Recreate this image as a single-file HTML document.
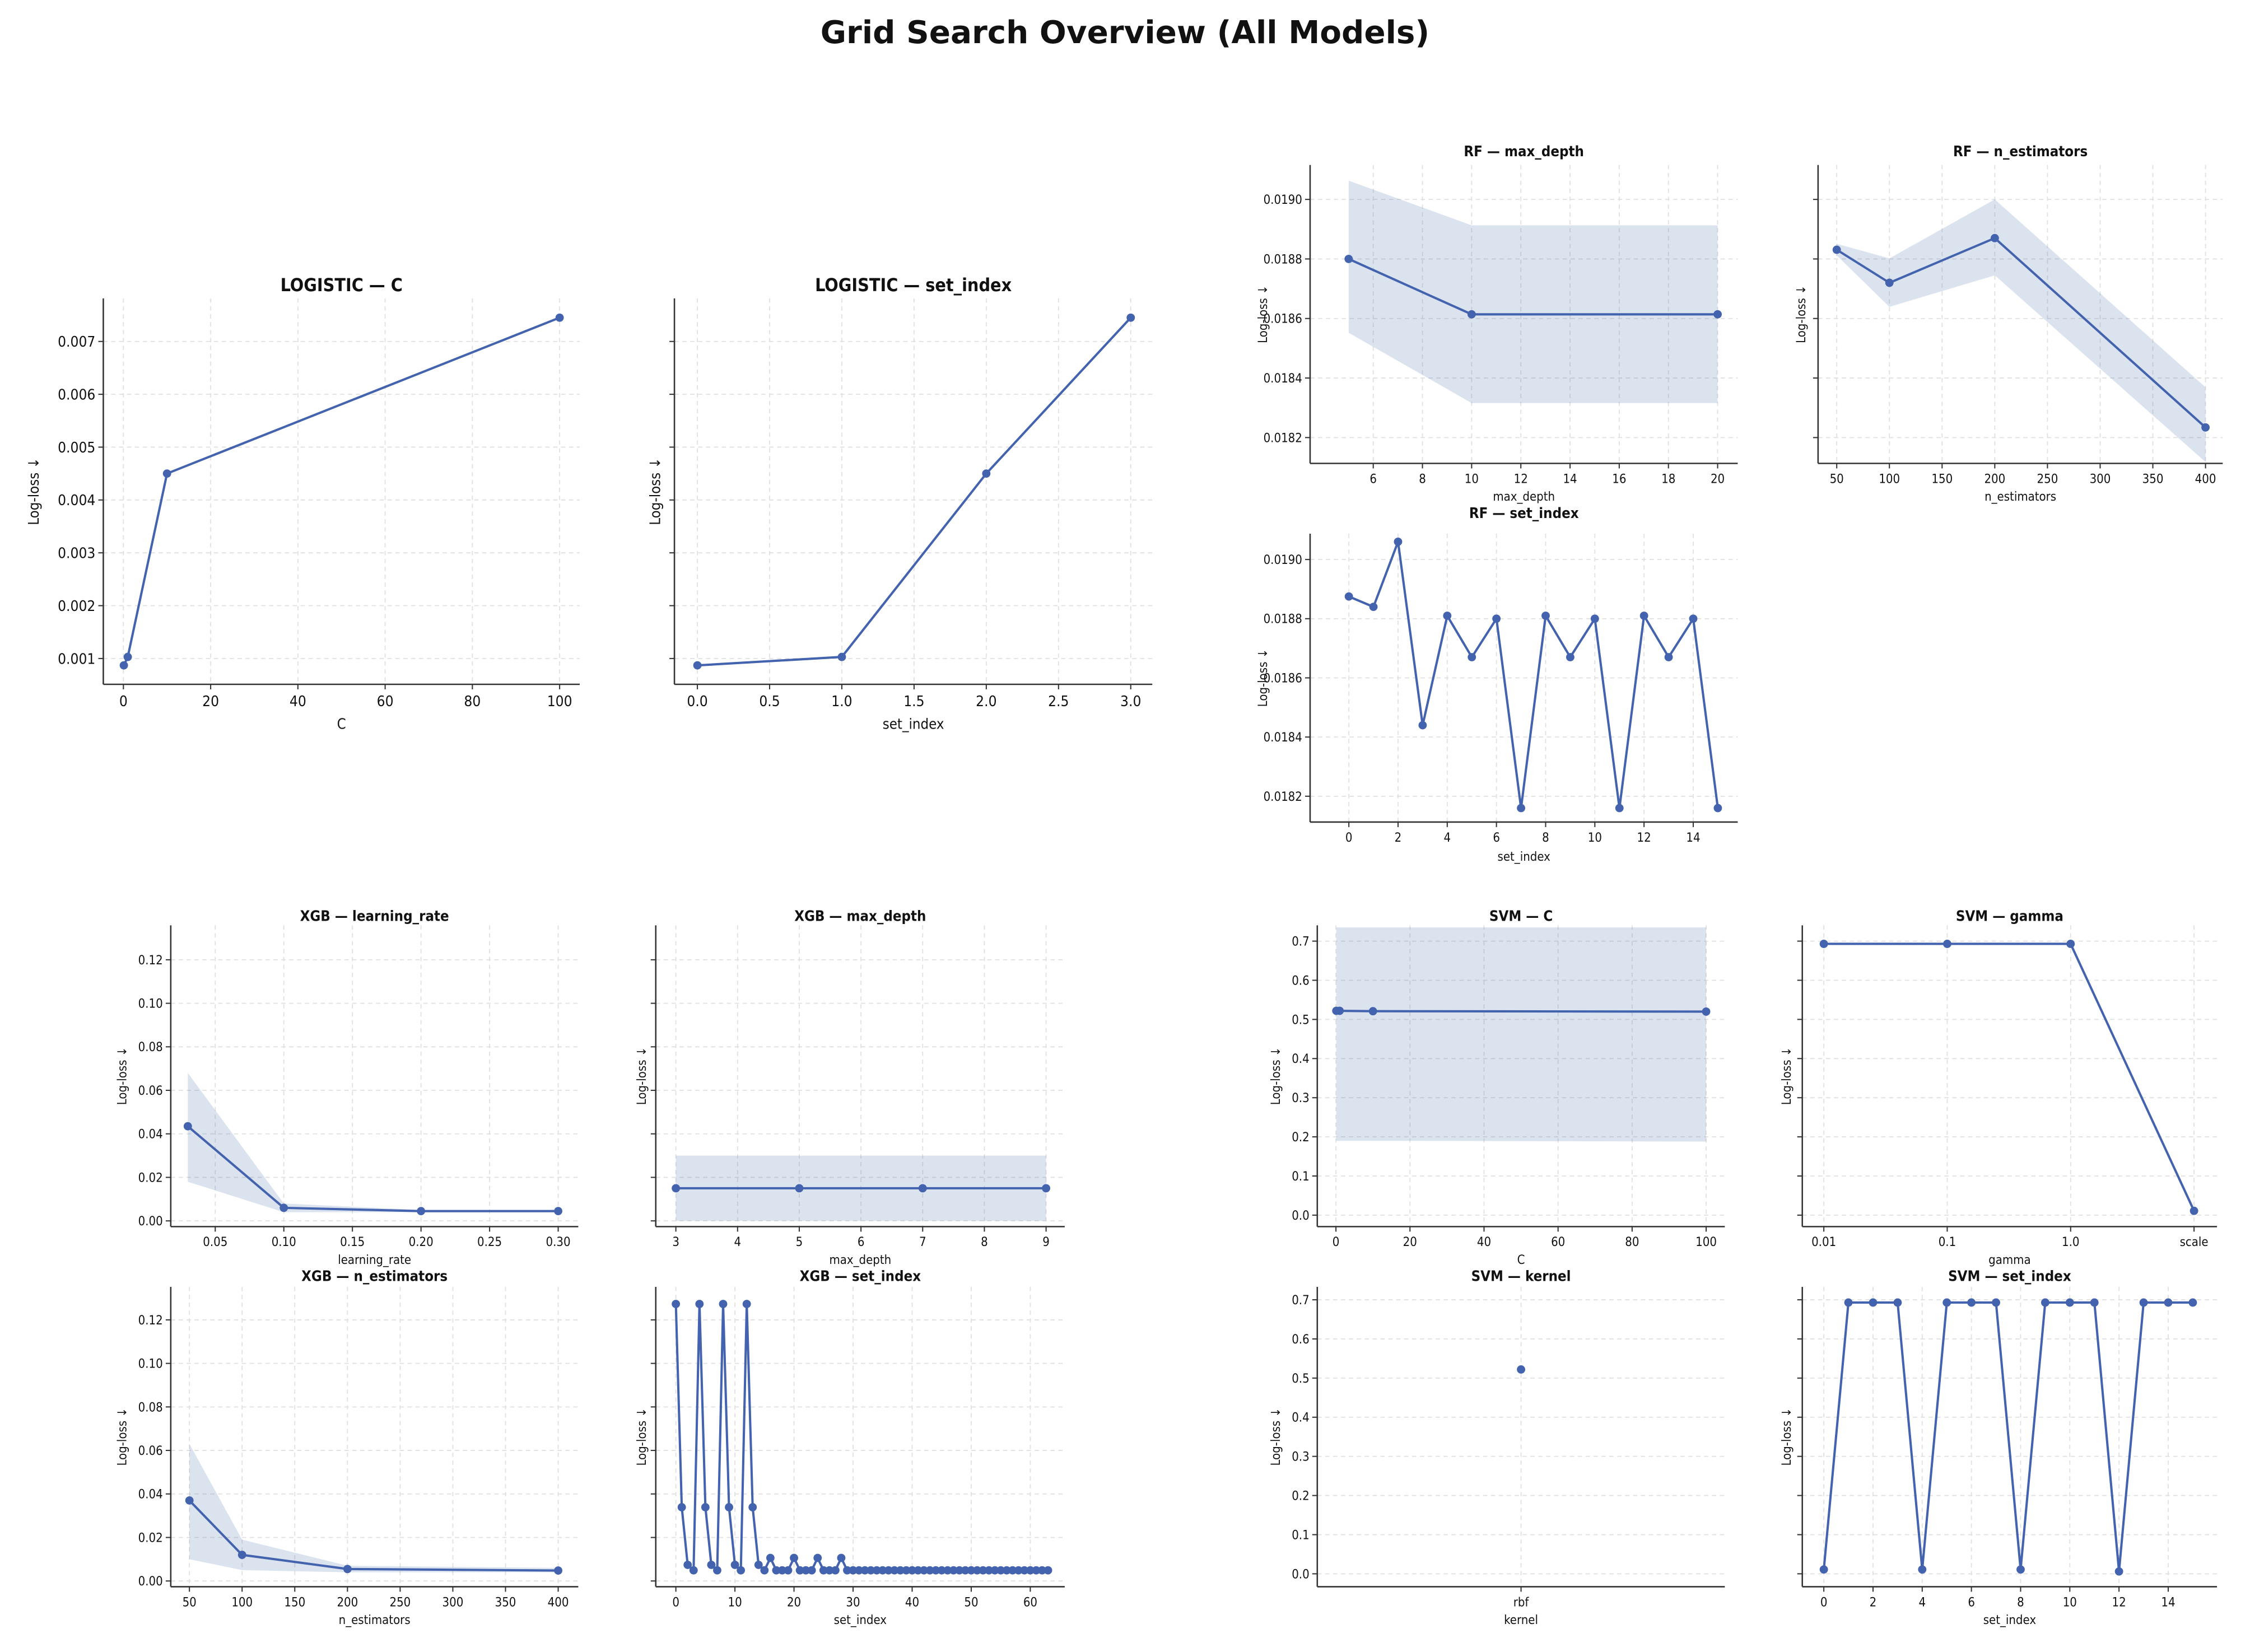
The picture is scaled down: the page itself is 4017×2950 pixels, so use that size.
<!DOCTYPE html>
<html><head><meta charset="utf-8">
<style>
html,body{margin:0;padding:0;background:#fff;}
svg{display:block;}
text{font-family:"DejaVu Sans Condensed","DejaVu Sans","Liberation Sans",sans-serif;fill:#111;}
</style></head>
<body>
<svg id="fig" width="4017" height="2950" viewBox="0 0 1568 1151.5" xmlns="http://www.w3.org/2000/svg">
<rect x="0" y="0" width="1568" height="1151.5" fill="#fff"/>
<text x="784" y="30" text-anchor="middle" font-size="22" font-weight="bold" style="font-family:'DejaVu Sans','Liberation Sans',sans-serif">Grid Search Overview (All Models)</text>
</svg>
<script>
// ---- data ----
const logCX = [0.1, 1, 10, 100];
const logVals = [0.00087, 0.00103, 0.0045, 0.00745];
const logSetX = [0, 1, 2, 3];

const rfDepthX = [5, 10, 20];
const rfDepthVals = [0.01880, 0.018614, 0.018614];
const rfDepthLo = [0.018552, 0.018316, 0.018316];
const rfDepthHi = [0.019063, 0.018913, 0.018913];

const rfEstX = [50, 100, 200, 400];
const rfEstVals = [0.018831, 0.01872, 0.01887, 0.018234];
const rfEstLo = [0.018812, 0.018639, 0.018745, 0.018118];
const rfEstHi = [0.018851, 0.018802, 0.0190, 0.018369];

const rfSetX = [0,1,2,3,4,5,6,7,8,9,10,11,12,13,14,15];
const rfSetVals = [0.018875,0.01884,0.01906,0.01844,0.01881,0.01867,0.0188,0.01816,0.01881,0.01867,0.0188,0.01816,0.01881,0.01867,0.0188,0.01816];

const xgbLrX = [0.03, 0.1, 0.2, 0.3];
const xgbLrVals = [0.0435, 0.006, 0.0045, 0.0045];
const xgbLrLo = [0.018, 0.004, 0.004, 0.004];
const xgbLrHi = [0.068, 0.008, 0.005, 0.005];

const xgbDepthX = [3, 5, 7, 9];
const xgbDepthVals = [0.015, 0.015, 0.015, 0.015];
const xgbDepthLo = [0.0, 0.0, 0.0, 0.0];
const xgbDepthHi = [0.030, 0.030, 0.030, 0.030];

const xgbEstX = [50, 100, 200, 400];
const xgbEstVals = [0.037, 0.012, 0.0055, 0.0048];
const xgbEstLo = [0.010, 0.005, 0.004, 0.004];
const xgbEstHi = [0.063, 0.019, 0.007, 0.006];

const xgbSetX = Array.from({length: 64}, (_, i) => i);
const xgbSetVals = [
 0.1273,0.0339,0.0074,0.0049, 0.1273,0.0339,0.0074,0.0049, 0.1273,0.0339,0.0074,0.0049, 0.1273,0.0339,0.0074,0.0049,
 0.0106,0.0049,0.0049,0.0049, 0.0106,0.0049,0.0049,0.0049, 0.0106,0.0049,0.0049,0.0049, 0.0106,0.0049,0.0049,0.0049,
 0.0049,0.0049,0.0049,0.0049,0.0049,0.0049,0.0049,0.0049,0.0049,0.0049,0.0049,0.0049,0.0049,0.0049,0.0049,0.0049,
 0.0049,0.0049,0.0049,0.0049,0.0049,0.0049,0.0049,0.0049,0.0049,0.0049,0.0049,0.0049,0.0049,0.0049,0.0049,0.0049];

const svmCX = [0.1, 1, 10, 100];
const svmCVals = [0.522, 0.522, 0.521, 0.520];
const svmCLo = [0.19, 0.19, 0.19, 0.188];
const svmCHi = [0.735, 0.735, 0.735, 0.735];

const svmGammaCats = ['0.01', '0.1', '1.0', 'scale'];
const svmGammaVals = [0.693, 0.693, 0.693, 0.011];

const svmKernelCats = ['rbf'];
const svmKernelVals = [0.522];

const svmSetX = [0,1,2,3,4,5,6,7,8,9,10,11,12,13,14,15];
const svmSetVals = [0.011,0.693,0.693,0.693,0.011,0.693,0.693,0.693,0.011,0.693,0.693,0.693,0.006,0.693,0.693,0.693];

const logYTicks = [0.001,0.002,0.003,0.004,0.005,0.006,0.007];
const logYLabels = ['0.001','0.002','0.003','0.004','0.005','0.006','0.007'];
const rfYTicks = [0.0182,0.0184,0.0186,0.0188,0.0190];
const rfYLabels = ['0.0182','0.0184','0.0186','0.0188','0.0190'];
const xgbYTicks = [0,0.02,0.04,0.06,0.08,0.10,0.12];
const xgbYLabels = ['0.00','0.02','0.04','0.06','0.08','0.10','0.12'];
const svmYTicks = [0,0.1,0.2,0.3,0.4,0.5,0.6,0.7];
const svmYLabels = ['0.0','0.1','0.2','0.3','0.4','0.5','0.6','0.7'];

// ---- drawing ----
const NS = 'http://www.w3.org/2000/svg';
const fig = document.getElementById('fig');
const COLOR = '#4463ae';
function mk(tag, attrs, parent) {
  const e = document.createElementNS(NS, tag);
  for (const k in attrs) e.setAttribute(k, attrs[k]);
  (parent || fig).appendChild(e);
  return e;
}
function lin(d0, p0, d1, p1) { return v => p0 + (v - d0) * (p1 - p0) / (d1 - d0); }

function panel(p) {
  const g = mk('g', {});
  
  
  const [l, t, r, b] = p.box;
  const X = p.cats ? (i => p.catPos[0] + i * (p.catPos[1] - p.catPos[0]) / Math.max(1, p.cats.length - 1)) : lin(...p.xmap);
  const Y = lin(...p.ymap);
  const fs = p.fs || 8.6;
  // grid
  const xt = p.cats ? p.cats.map((_, i) => i) : p.xticks;
  const xl = p.cats ? p.cats : p.xlabels;
  xt.forEach(v => {
    const gl = mk('line', {x1: X(v), x2: X(v), y1: t, y2: b, stroke: '#e0e0e0', 'stroke-width': 0.7, 'stroke-dasharray': '3,2.5'}, g);
    
    
  });
  p.yticks.forEach(v => {
    const gl = mk('line', {x1: l, x2: r, y1: Y(v), y2: Y(v), stroke: '#e0e0e0', 'stroke-width': 0.7, 'stroke-dasharray': '3,2.5'}, g);
    
    
  });
  // band
  if (p.lo) {
    let d = '';
    p.xs.forEach((x, i) => { d += (i ? 'L' : 'M') + X(x) + ',' + Math.max(t, Y(p.hi[i])); });
    for (let i = p.xs.length - 1; i >= 0; i--) d += 'L' + X(p.xs[i]) + ',' + Y(p.lo[i]);
    const band = mk('path', {d: d + 'Z', fill: '#4c72b0', 'fill-opacity': 0.2, stroke: 'none'}, g);
    
    
  }
  // line
  const pts = p.ys.map((v, i) => X(p.cats ? i : p.xs[i]) + ',' + Y(v)).join(' ');
  if (p.ys.length > 1) {
    const pl = mk('polyline', {points: pts, fill: 'none', stroke: COLOR, 'stroke-width': 1.6, 'stroke-linejoin': 'round'}, g);
    
    
  }
  p.ys.forEach((v, i) => {
    const c = mk('circle', {cx: X(p.cats ? i : p.xs[i]), cy: Y(v), r: 2.9, fill: COLOR}, g);
    
    
  });
  // spines
  const sl = mk('line', {x1: l, x2: l, y1: t, y2: b, stroke: '#333', 'stroke-width': 1}, g);
  
  
  const sb = mk('line', {x1: l, x2: r, y1: b, y2: b, stroke: '#333', 'stroke-width': 1}, g);
  
  
  // x ticks
  xt.forEach((v, i) => {
    const tk = mk('line', {x1: X(v), x2: X(v), y1: b, y2: b + 3.5, stroke: '#333', 'stroke-width': 0.8}, g);
    
    
    const tx = mk('text', {x: X(v), y: b + 5 + fs, 'text-anchor': 'middle', 'font-size': fs}, g);
    tx.textContent = xl[i];
    
    
  });
  p.yticks.forEach((v, i) => {
    const tk = mk('line', {x1: l - 3.5, x2: l, y1: Y(v), y2: Y(v), stroke: '#333', 'stroke-width': 0.8}, g);
    
    
    if (p.ylabels) {
      const tx = mk('text', {x: l - 5.5, y: Y(v) + fs * 0.36, 'text-anchor': 'end', 'font-size': fs}, g);
      tx.textContent = p.ylabels[i];
      
      
    }
  });
  const tt = mk('text', {x: (l + r) / 2, y: p.titleY, 'text-anchor': 'middle', 'font-size': p.tfs || 10, 'font-weight': 'bold'}, g);
  tt.textContent = p.title;
  
  
  const xa = mk('text', {x: (l + r) / 2, y: p.xlabelY, 'text-anchor': 'middle', 'font-size': p.afs || fs}, g);
  xa.textContent = p.xlabel;
  
  
  const cy = (t + b) / 2;
  const ya = mk('text', {x: p.ylabelX, y: cy, 'text-anchor': 'middle', 'font-size': p.afs || fs, transform: 'rotate(-90 ' + p.ylabelX + ' ' + cy + ')'}, g);
  ya.textContent = 'Log-loss ↓';
  
  
}

const logY = [0.001, 459, 0.007, 238];
panel({name:'logistic-c-panel', box:[72,208,404,477], xmap:[0,86,100,390], ymap:logY, xticks:[0,20,40,60,80,100], xlabels:['0','20','40','60','80','100'], yticks:logYTicks, ylabels:logYLabels, xs:logCX, ys:logVals, title:'LOGISTIC — C', titleY:203, tfs:12.5, xlabel:'C', xlabelY:508, ylabelX:27, fs:10.2, afs:10});
panel({name:'logistic-set-index-panel', box:[470,208,803,477], xmap:[0,486,3,788], ymap:logY, xticks:[0,0.5,1,1.5,2,2.5,3], xlabels:['0.0','0.5','1.0','1.5','2.0','2.5','3.0'], yticks:logYTicks, ylabels:null, xs:logSetX, ys:logVals, title:'LOGISTIC — set_index', titleY:203, tfs:12.5, xlabel:'set_index', xlabelY:508, ylabelX:460, fs:10.2, afs:10});

const rfY = [0.0182, 305, 0.0190, 139];
panel({name:'rf-max-depth-panel', box:[913,115,1211,323], xmap:[6,957,20,1197], ymap:rfY, xticks:[6,8,10,12,14,16,18,20], xlabels:['6','8','10','12','14','16','18','20'], yticks:rfYTicks, ylabels:rfYLabels, xs:rfDepthX, ys:rfDepthVals, lo:rfDepthLo, hi:rfDepthHi, title:'RF — max_depth', titleY:109, xlabel:'max_depth', xlabelY:349, ylabelX:883});
panel({name:'rf-n-estimators-panel', box:[1267,115,1549,323], xmap:[50,1280,400,1537], ymap:rfY, xticks:[50,100,150,200,250,300,350,400], xlabels:['50','100','150','200','250','300','350','400'], yticks:rfYTicks, ylabels:null, xs:rfEstX, ys:rfEstVals, lo:rfEstLo, hi:rfEstHi, title:'RF — n_estimators', titleY:109, xlabel:'n_estimators', xlabelY:349, ylabelX:1258});
panel({name:'rf-set-index-panel', box:[913,372,1211,573], xmap:[0,940,14,1180], ymap:[0.0182,555,0.0190,390], xticks:[0,2,4,6,8,10,12,14], xlabels:['0','2','4','6','8','10','12','14'], yticks:rfYTicks, ylabels:rfYLabels, xs:rfSetX, ys:rfSetVals, title:'RF — set_index', titleY:361, xlabel:'set_index', xlabelY:600, ylabelX:883});

const xgbTopY = [0, 851, 0.12, 669];
const xgbBotY = [0, 1102, 0.12, 920];
panel({name:'xgb-learning-rate-panel', box:[119,645,403,855], xmap:[0.05,150,0.30,389], ymap:xgbTopY, xticks:[0.05,0.10,0.15,0.20,0.25,0.30], xlabels:['0.05','0.10','0.15','0.20','0.25','0.30'], yticks:xgbYTicks, ylabels:xgbYLabels, xs:xgbLrX, ys:xgbLrVals, lo:xgbLrLo, hi:xgbLrHi, title:'XGB — learning_rate', titleY:642, xlabel:'learning_rate', xlabelY:881, ylabelX:88});
panel({name:'xgb-max-depth-panel', box:[457,645,742,855], xmap:[3,471,9,729], ymap:xgbTopY, xticks:[3,4,5,6,7,8,9], xlabels:['3','4','5','6','7','8','9'], yticks:xgbYTicks, ylabels:null, xs:xgbDepthX, ys:xgbDepthVals, lo:xgbDepthLo, hi:xgbDepthHi, title:'XGB — max_depth', titleY:642, xlabel:'max_depth', xlabelY:881, ylabelX:450});
panel({name:'xgb-n-estimators-panel', box:[119,897,403,1106], xmap:[50,132,400,389], ymap:xgbBotY, xticks:[50,100,150,200,250,300,350,400], xlabels:['50','100','150','200','250','300','350','400'], yticks:xgbYTicks, ylabels:xgbYLabels, xs:xgbEstX, ys:xgbEstVals, lo:xgbEstLo, hi:xgbEstHi, title:'XGB — n_estimators', titleY:893, xlabel:'n_estimators', xlabelY:1132, ylabelX:88});
panel({name:'xgb-set-index-panel', box:[457,897,742,1106], xmap:[0,471,60,718], ymap:xgbBotY, xticks:[0,10,20,30,40,50,60], xlabels:['0','10','20','30','40','50','60'], yticks:xgbYTicks, ylabels:null, xs:xgbSetX, ys:xgbSetVals, title:'XGB — set_index', titleY:893, xlabel:'set_index', xlabelY:1132, ylabelX:450});

const svmTopY = [0, 847, 0.7, 656];
const svmBotY = [0, 1097, 0.7, 906];
panel({name:'svm-c-panel', box:[918,645,1202,855], xmap:[0,931,100,1189], ymap:svmTopY, xticks:[0,20,40,60,80,100], xlabels:['0','20','40','60','80','100'], yticks:svmYTicks, ylabels:svmYLabels, xs:svmCX, ys:svmCVals, lo:svmCLo, hi:svmCHi, title:'SVM — C', titleY:642, xlabel:'C', xlabelY:881, ylabelX:892});
panel({name:'svm-gamma-panel', box:[1256,645,1545,855], cats:svmGammaCats, catPos:[1271,1529], ymap:svmTopY, yticks:svmYTicks, ylabels:null, ys:svmGammaVals, title:'SVM — gamma', titleY:642, xlabel:'gamma', xlabelY:881, ylabelX:1248});
panel({name:'svm-kernel-panel', box:[918,897,1202,1106], cats:svmKernelCats, catPos:[1060,1060], ymap:svmBotY, yticks:svmYTicks, ylabels:svmYLabels, ys:svmKernelVals, title:'SVM — kernel', titleY:893, xlabel:'kernel', xlabelY:1132, ylabelX:892});
panel({name:'svm-set-index-panel', box:[1256,897,1545,1106], xmap:[0,1271,14,1511], ymap:svmBotY, xticks:[0,2,4,6,8,10,12,14], xlabels:['0','2','4','6','8','10','12','14'], yticks:svmYTicks, ylabels:null, xs:svmSetX, ys:svmSetVals, title:'SVM — set_index', titleY:893, xlabel:'set_index', xlabelY:1132, ylabelX:1248});
</script>
</body></html>
